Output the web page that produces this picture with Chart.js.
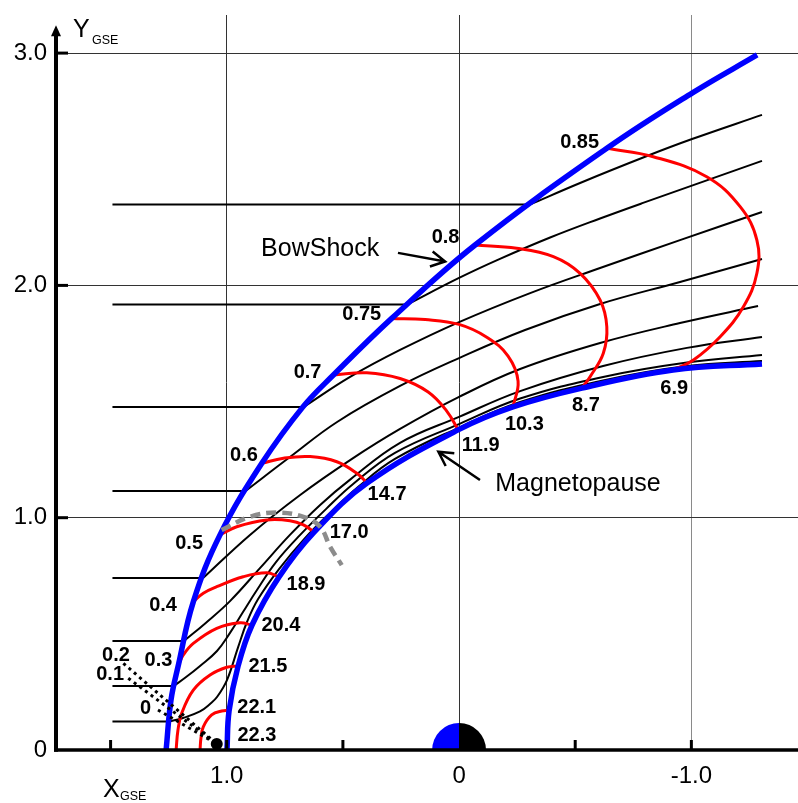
<!DOCTYPE html>
<html>
<head>
<meta charset="utf-8">
<title>Magnetosheath flow</title>
<script src="https://cdn.jsdelivr.net/npm/chart.js@4.4.1/dist/chart.umd.min.js"></script>
<style>
  html, body { margin: 0; padding: 0; background: #fff; }
  #wrap { width: 798px; height: 803px; }
</style>
</head>
<body>
<div id="wrap"><canvas id="chart" width="798" height="803"></canvas></div>
<script>
// axis ranges and ticks
const xMin = -1.459, xMax = 1.735;
const yMin = 0, yMax = 3.164;
const xTickValues = [1.5, 1.0, 0.5, 0, -0.5, -1.0];
const xTickText = ['', '1.0', '', '0', '', '-1.0'];
const yTickValues = [0, 1, 2, 3];
const yTickText = ['0', '1.0', '2.0', '3.0'];

// boundaries [X, Y]
const bowShock = [[1.261,0],[1.240,0.215],[1.208,0.366],[1.144,0.638],[1.029,0.926],[0.849,1.234],
  [0.672,1.477],[0.541,1.614],[0.290,1.858],[-0.069,2.174],[-0.636,2.590],[-1.003,2.828],[-1.283,2.992]];
const magnetopause = [[0.999,0],[0.990,0.168],[0.951,0.362],[0.891,0.538],[0.775,0.745],[0.624,0.938],
  [0.396,1.149],[0.004,1.378],[-0.232,1.477],[-0.529,1.558],[-0.921,1.636],[-1.304,1.662]];

// streamlines: upstream start X, then the path from the shock crossing onwards
const flowStartX = 1.492;
const flow1 = [[-0.305,2.348],[-0.521,2.441],[-0.809,2.557],[-1.003,2.630],[-1.304,2.734]];
const flow2 = [[0.222,1.918],[0,2.032],[-0.176,2.114],[-0.392,2.206],[-0.607,2.288],[-0.792,2.355],[-1.304,2.536]];
const flow3 = [[0.668,1.477],[0.469,1.606],[0.254,1.722],[0,1.842],[-0.306,1.967],[-0.607,2.075],[-0.951,2.195],[-1.304,2.316]];
const flow4 = [[0.919,1.115],[0.728,1.261],[0.525,1.412],[0.254,1.567],[0,1.687],[-0.284,1.808],[-0.607,1.920],[-0.951,2.015],[-1.304,2.114]];
const flow5 = [[1.102,0.740],[0.900,0.926],[0.684,1.098],[0.469,1.248],[0.254,1.382],[0,1.520],[-0.263,1.640],[-0.607,1.752],[-0.951,1.838],[-1.287,1.911]];
const flow6 = [[1.184,0.469],[1.093,0.545],[0.986,0.641],[0.857,0.783],[0.728,0.926],[0.598,1.055],[0.469,1.164],
  [0.254,1.322],[0,1.434],[-0.263,1.545],[-0.620,1.653],[-0.981,1.731],[-1.304,1.778]];
const flow7 = [[1.227,0.276],[1.175,0.314],[1.115,0.362],[1.042,0.426],[0.986,0.504],[0.930,0.594],[0.870,0.689],
  [0.788,0.809],[0.684,0.926],[0.573,1.037],[0.456,1.145],[0.276,1.279],[0,1.403],[-0.263,1.513],[-0.620,1.606],[-0.981,1.668],[-1.304,1.700]];
const flow8 = [[1.248,0.123],[1.188,0.138],[1.115,0.166],[1.072,0.198],[1.042,0.228],[0.999,0.301],[0.951,0.443],
  [0.913,0.551],[0.865,0.650],[0.775,0.779],[0.667,0.908],[0.551,1.025],[0.435,1.132],[0.276,1.253],[0,1.388],
  [-0.263,1.498],[-0.620,1.591],[-0.981,1.653],[-1.304,1.675]];

// red contours, shock side to magnetopause side
const contour221 = [[1.115,0],[1.111,0.052],[1.101,0.100],[1.065,0.151],[1.022,0.168],[0.990,0.170]];
const contour215 = [[1.218,0],[1.210,0.086],[1.194,0.158],[1.144,0.258],[1.072,0.323],[1.000,0.356],[0.950,0.362]];
const contour03 = [[1.208,0.366],[1.187,0.409],[1.144,0.459],[1.043,0.524],[0.943,0.548],[0.893,0.538]];
const contour04 = [[1.144,0.638],[1.101,0.675],[1.043,0.703],[0.929,0.746],[0.828,0.763],[0.775,0.745]];
const contour05 = [[1.029,0.926],[0.957,0.961],[0.828,0.990],[0.728,0.987],[0.670,0.969],[0.624,0.938]];
const contour06 = [[0.849,1.234],[0.756,1.256],[0.641,1.263],[0.526,1.241],[0.440,1.191],[0.396,1.149]];
const contour07 = [[0.541,1.614],[0.397,1.624],[0.254,1.599],[0.133,1.541],[0.053,1.459],[0.004,1.378]];
const contour075 = [[0.290,1.858],[0.146,1.853],[0,1.832],[-0.121,1.776],[-0.211,1.696],[-0.254,1.588],[-0.232,1.477]];
const contour08 = [[-0.069,2.174],[-0.248,2.160],[-0.406,2.124],[-0.521,2.052],[-0.607,1.937],[-0.636,1.822],
  [-0.621,1.708],[-0.564,1.607],[-0.529,1.558]];
const contour085 = [[-0.636,2.590],[-0.836,2.554],[-1.066,2.468],[-1.210,2.339],[-1.282,2.195],[-1.282,2.052],
  [-1.224,1.908],[-1.124,1.779],[-1.009,1.679],[-0.921,1.636]];

// grey dashed curve and the dotted leaders to the black point
const dashedCurve = [[1.022,0.947],[0.900,1.004],[0.785,1.022],[0.670,1.004],[0.598,0.961],[0.555,0.875],[0.505,0.796]];
const subsolarPoint = [1.043, 0.026];
const leaderStarts = [[1.445,0.373],[1.424,0.309],[1.296,0.172]];

// contour values
const shockValues = ['0.85','0.8','0.75','0.7','0.6','0.5','0.4','0.3','0.2','0.1','0'];
const pauseValues = ['6.9','8.7','10.3','11.9','14.7','17.0','18.9','20.4','21.5','22.1','22.3'];

// where the value labels sit (label centres, data units)
const shockLabelAt = [[-0.519,2.615],[0.058,2.206],[0.419,1.873],[0.652,1.625],[0.926,1.266],[1.162,0.888],
  [1.274,0.620],[1.294,0.387],[1.477,0.409],[1.502,0.323],[1.350,0.180]];
const pauseLabelAt = [[-0.926,1.557],[-0.546,1.485],[-0.281,1.403],[-0.093,1.313],[0.310,1.102],[0.473,0.936],
  [0.659,0.714],[0.767,0.535],[0.823,0.359],[0.871,0.183],[0.870,0.061]];
const earthRadius = 0.116;
const yArrowTop = 3.12;

const FONT = "'Liberation Sans', Arial, Helvetica, sans-serif";
const pts = arr => arr.map(([x, y]) => ({ x, y }));

function curve(data, color, width, extra) {
  return Object.assign({
    data: pts(data), showLine: true, borderColor: color, borderWidth: width,
    pointRadius: 0, fill: false, tension: 0.4
  }, extra || {});
}

const datasets = [];
[flow1, flow2, flow3, flow4, flow5, flow6, flow7, flow8].forEach(f => {
  datasets.push(curve([[flowStartX, f[0][1]], f[0]], '#000', 2, { tension: 0, order: 6 }));
  datasets.push(curve(f, '#000', 2, { order: 6 }));
});
[contour221, contour215, contour03, contour04, contour05, contour06, contour07, contour075, contour08, contour085]
  .forEach(c => datasets.push(curve(c, '#ff0000', 3, { order: 5 })));
datasets.push(curve(bowShock, '#0000ff', 5.5, { order: 4 }));
datasets.push(curve(magnetopause, '#0000ff', 5.5, { order: 4 }));
datasets.push(curve(dashedCurve, '#8c8c8c', 4.5, { order: 3, borderDash: [10, 6] }));
leaderStarts.forEach(s => datasets.push(curve([s, subsolarPoint], '#000', 3, { order: 2, tension: 0, borderDash: [3, 4] })));
datasets.push({ data: pts([subsolarPoint]), showLine: false, pointRadius: 6, pointBackgroundColor: '#000', pointBorderWidth: 0, order: 1 });

function arrow(ctx, x0, y0, x1, y1) {
  const ang = Math.atan2(y1 - y0, x1 - x0), h = 16, s = 0.5;
  ctx.beginPath();
  ctx.moveTo(x0, y0); ctx.lineTo(x1, y1);
  ctx.moveTo(x1 - h * Math.cos(ang - s), y1 - h * Math.sin(ang - s));
  ctx.lineTo(x1, y1);
  ctx.lineTo(x1 - h * Math.cos(ang + s), y1 - h * Math.sin(ang + s));
  ctx.stroke();
}

// keep the plot area fixed: no extra room reserved for edge labels
function noEdgePadding(s) {
  s.paddingTop = 0; s.paddingBottom = 0; s.paddingLeft = 0; s.paddingRight = 0;
}

// axes, ticks, Earth and all the text
const overlay = {
  id: 'overlay',
  afterDatasetsDraw(chart) {
    const { ctx, chartArea: a, scales: { x, y } } = chart;
    const px = v => x.getPixelForValue(v), py = v => y.getPixelForValue(v);
    ctx.save();

    ctx.strokeStyle = '#000';
    ctx.lineWidth = 3;
    xTickValues.forEach(v => {
      ctx.beginPath(); ctx.moveTo(px(v), a.bottom); ctx.lineTo(px(v), a.bottom - 10); ctx.stroke();
    });
    yTickValues.slice(1).forEach(v => {
      ctx.beginPath(); ctx.moveTo(a.left, py(v)); ctx.lineTo(a.left + 12, py(v)); ctx.stroke();
    });

    // Earth: dayside blue, nightside black
    const cx = px(0), cy = py(0), r = px(0) - px(earthRadius);
    ctx.fillStyle = '#0000ff';
    ctx.beginPath(); ctx.moveTo(cx, cy); ctx.arc(cx, cy, r, Math.PI, 1.5 * Math.PI); ctx.closePath(); ctx.fill();
    ctx.fillStyle = '#000';
    ctx.beginPath(); ctx.moveTo(cx, cy); ctx.arc(cx, cy, r, 1.5 * Math.PI, 2 * Math.PI); ctx.closePath(); ctx.fill();

    // axis lines
    const tip = py(yArrowTop);
    ctx.lineWidth = 3.5;
    ctx.beginPath(); ctx.moveTo(a.left - 2, a.bottom); ctx.lineTo(a.right, a.bottom); ctx.stroke();
    ctx.lineWidth = 4;
    ctx.beginPath(); ctx.moveTo(a.left, a.bottom + 1.7); ctx.lineTo(a.left, tip + 8); ctx.stroke();
    ctx.beginPath(); ctx.moveTo(a.left, tip); ctx.lineTo(a.left - 5, tip + 11); ctx.lineTo(a.left + 5, tip + 11); ctx.closePath(); ctx.fill();

    // axis titles
    ctx.fillStyle = '#000';
    ctx.textAlign = 'left';
    ctx.textBaseline = 'alphabetic';
    ctx.font = '25px ' + FONT;
    ctx.fillText('Y', a.left + 17, a.top + 22);
    ctx.fillText('X', a.left + 47, chart.height - 6);
    ctx.font = '12.5px ' + FONT;
    ctx.fillText('GSE', a.left + 36, a.top + 29);
    ctx.fillText('GSE', a.left + 64, chart.height - 3);

    // contour values
    ctx.textAlign = 'center';
    ctx.textBaseline = 'middle';
    ctx.font = 'bold 20px ' + FONT;
    shockValues.forEach((t, i) => ctx.fillText(t, px(shockLabelAt[i][0]), py(shockLabelAt[i][1])));
    pauseValues.forEach((t, i) => ctx.fillText(t, px(pauseLabelAt[i][0]), py(pauseLabelAt[i][1])));

    // boundary names with arrows
    ctx.font = '25px ' + FONT;
    ctx.fillText('BowShock', px(0.598), py(2.157));
    ctx.fillText('Magnetopause', px(-0.512), py(1.145));
    ctx.lineWidth = 2.5;
    arrow(ctx, px(0.263), py(2.140), px(0.060), py(2.103));
    arrow(ctx, px(-0.090), py(1.162), px(0.089), py(1.284));

    ctx.restore();
  }
};

new Chart(document.getElementById('chart'), {
  type: 'scatter',
  data: { datasets },
  options: {
    responsive: false,
    animation: false,
    layout: { autoPadding: false, padding: { top: 15, right: 0, left: 0, bottom: 0 } },
    plugins: { legend: { display: false }, tooltip: { enabled: false } },
    scales: {
      x: {
        type: 'linear', reverse: true, min: xMin, max: xMax,
        afterBuildTicks: s => { s.ticks = xTickValues.map(v => ({ value: v })); },
        afterFit: s => { s.height = 53; noEdgePadding(s); },
        grid: {
          drawTicks: false, lineWidth: 1,
          color: c => (c.tick && Number.isInteger(c.tick.value)) ? (c.tick.value === -1 ? '#8a8a8a' : '#333') : 'rgba(0,0,0,0)'
        },
        border: { display: false },
        ticks: {
          autoSkip: false, maxRotation: 0, padding: 12, color: '#000',
          font: { family: FONT, size: 24 },
          callback: (v, i) => xTickText[i]
        }
      },
      y: {
        type: 'linear', min: yMin, max: yMax,
        afterBuildTicks: s => { s.ticks = yTickValues.map(v => ({ value: v })); },
        afterFit: s => { s.width = 56; noEdgePadding(s); },
        grid: {
          drawTicks: false, lineWidth: 1,
          color: c => (c.tick && c.tick.value > 0) ? '#333' : 'rgba(0,0,0,0)'
        },
        border: { display: false },
        ticks: {
          autoSkip: false, padding: 9, color: '#000',
          font: { family: FONT, size: 24 },
          callback: (v, i) => yTickText[i]
        }
      }
    }
  },
  plugins: [overlay]
});
</script>
</body>
</html>
